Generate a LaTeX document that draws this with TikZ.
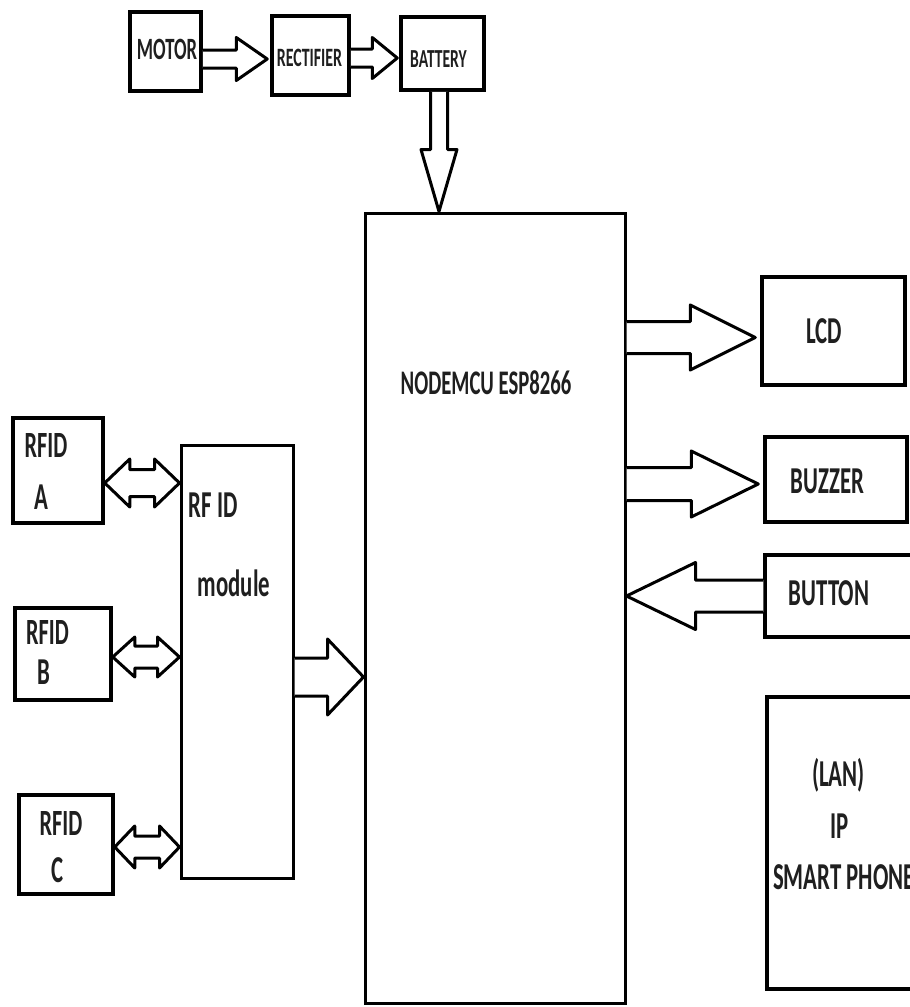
\documentclass[tikz,border=0pt]{standalone}
\usepackage{fontspec}
\newfontfamily\cf[FakeStretch=0.6]{Carlito Bold}
\usetikzlibrary{calc}
\tikzset{
  box/.style={draw=black, line width=3.5pt, fill=white, inner sep=0pt, rectangle},
  txt/.style={inner sep=0pt, font=\cf\fontsize{38}{42}\selectfont, text=black!88},
  smalltxt/.style={inner sep=0pt, font=\cf\fontsize{31}{34}\selectfont, text=black!88},
  arw/.style={draw=black, line width=3pt, fill=white, line join=round},
}
% horizontal block arrow: #1 start, #2 end (tip x), #3 body half, #4 head half, #5 head length (signed)
\newcommand{\harw}[5]{%
  \draw[arw] let \p1=(#1), \p2=(#2), \n1={\x2-(#5)*1pt} in
    ({\x1},{\y1+#3pt}) -- ({\n1},{\y1+#3pt}) -- ({\n1},{\y1+#4pt}) -- ({\x2},{\y1})
    -- ({\n1},{\y1-#4pt}) -- ({\n1},{\y1-#3pt}) -- ({\x1},{\y1-#3pt});}
% double block arrow
\newcommand{\darw}[5]{%
  \draw[arw] let \p1=(#1), \p2=(#2), \n1={\x1+#5pt}, \n2={\x2-#5pt} in
    ({\x1},{\y1}) -- ({\n1},{\y1+#4pt}) -- ({\n1},{\y1+#3pt}) -- ({\n2},{\y1+#3pt})
    -- ({\n2},{\y1+#4pt}) -- ({\x2},{\y1}) -- ({\n2},{\y1-#4pt}) -- ({\n2},{\y1-#3pt})
    -- ({\n1},{\y1-#3pt}) -- ({\n1},{\y1-#4pt}) -- cycle;}
% vertical down block arrow
\newcommand{\varw}[5]{%
  \draw[arw] let \p1=(#1), \p2=(#2), \n1={\y2+#5pt} in
    ({\x1+#3pt},{\y1}) -- ({\x1+#3pt},{\n1}) -- ({\x1+#4pt},{\n1}) -- ({\x1},{\y2})
    -- ({\x1-#4pt},{\n1}) -- ({\x1-#3pt},{\n1}) -- ({\x1-#3pt},{\y1});}
\begin{document}
\begin{tikzpicture}[x=1pt,y=-1pt]
\fill[white] (0,0) rectangle (910,1007);
\clip (0,0) rectangle (910,1007);
% boxes
\node[box, minimum width=71pt, minimum height=79pt] (motor) at (165.5,51.5) {};
\node[box, minimum width=77pt, minimum height=79pt] (rect) at (310.5,55.5) {};
\node[box, minimum width=83pt, minimum height=73pt] (battery) at (442.5,53.5) {};
\node[box, line width=3pt, minimum width=260pt, minimum height=790pt] (nodemcu) at (495,608) {};
\node[box, minimum width=143pt, minimum height=108pt] (lcd) at (833.5,331) {};
\node[box, minimum width=142pt, minimum height=85pt] (buzzer) at (836,479.5) {};
\node[box, minimum width=150pt, minimum height=82pt] (button) at (840,596) {};
\node[box, minimum width=148pt, minimum height=292pt] (lan) at (841,843) {};
\node[box, minimum width=90pt, minimum height=105pt] (rfidA) at (58,470.5) {};
\node[box, minimum width=96pt, minimum height=92pt] (rfidB) at (63,654) {};
\node[box, minimum width=94pt, minimum height=99pt] (rfidC) at (66,844.5) {};
\node[box, line width=3pt, minimum width=112pt, minimum height=433pt] (module) at (237,661.5) {};
% arrows
\harw{$(motor.east)+(0,7.5)$}{$(rect.west)+(-3,0)$}{9}{21.5}{31}
\harw{$(rect.east)+(0,2.5)$}{$(battery.west)+(-2,0)$}{9}{20.5}{25}
\varw{$(battery.south)+(-3.5,0)$}{nodemcu.north}{8.5}{18}{62}
\harw{$(nodemcu.east|-lcd.west)+(0,6.5)$}{$(lcd.west)+(-5,0)$}{16}{32.5}{65}
\harw{$(nodemcu.east|-buzzer.west)+(0,4.5)$}{$(buzzer.west)+(-5,0)$}{16.5}{33}{67}
\harw{button.west}{nodemcu.east}{16}{33.5}{-69}
\harw{$(module.east)+(0,15.5)$}{nodemcu.west}{19}{38}{36}
\darw{$(rfidA.east)+(0,12.5)$}{module.west}{13.5}{24}{25}
\darw{$(rfidB.east)+(0,3)$}{module.west}{11}{20}{22}
\darw{$(rfidC.east)+(0,2.5)$}{module.west}{11}{21}{20}
% texts
\node[smalltxt] (tmotor) at (167,49) {MOTOR};
\node[smalltxt, font=\cf\fontsize{26.5}{30}\selectfont] (trect) at (309.5,58) {RECTIFIER};
\node[smalltxt, font=\cf\fontsize{26}{30}\selectfont] (tbatt) at (438.5,59) {BATTERY};
\node[txt, font=\cf\fontsize{34.5}{38}\selectfont] (tnode) at (486,383) {NODEMCU ESP8266};
\node[txt] (tlcd) at (824,331) {LCD};
\node[txt] (tbuzz) at (827.5,481) {BUZZER};
\node[txt] (tbutton) at (829,593) {BUTTON};
\node[txt] (tlan1) at (838.5,775) {(LAN)};
\node[txt] (tlan2) at (840,826) {IP};
\node[txt, anchor=west] (tlan3) at (773,877) {SMART PHONE};
\node[txt, font=\cf\fontsize{37}{40}\selectfont] (ta1) at (46,445.5) {RFID};
\node[txt] (ta2) at (41.5,497.5) {A};
\node[txt, font=\cf\fontsize{37}{40}\selectfont] (tb1) at (47.5,632.5) {RFID};
\node[txt] (tb2) at (43.5,672) {B};
\node[txt, font=\cf\fontsize{37}{40}\selectfont] (tc1) at (61,823.5) {RFID};
\node[txt] (tc2) at (57.5,870) {C};
\node[txt] (tm1) at (213,505) {RF ID};
\node[txt] (tm2) at (234,583) {module};
\end{tikzpicture}
\end{document}
